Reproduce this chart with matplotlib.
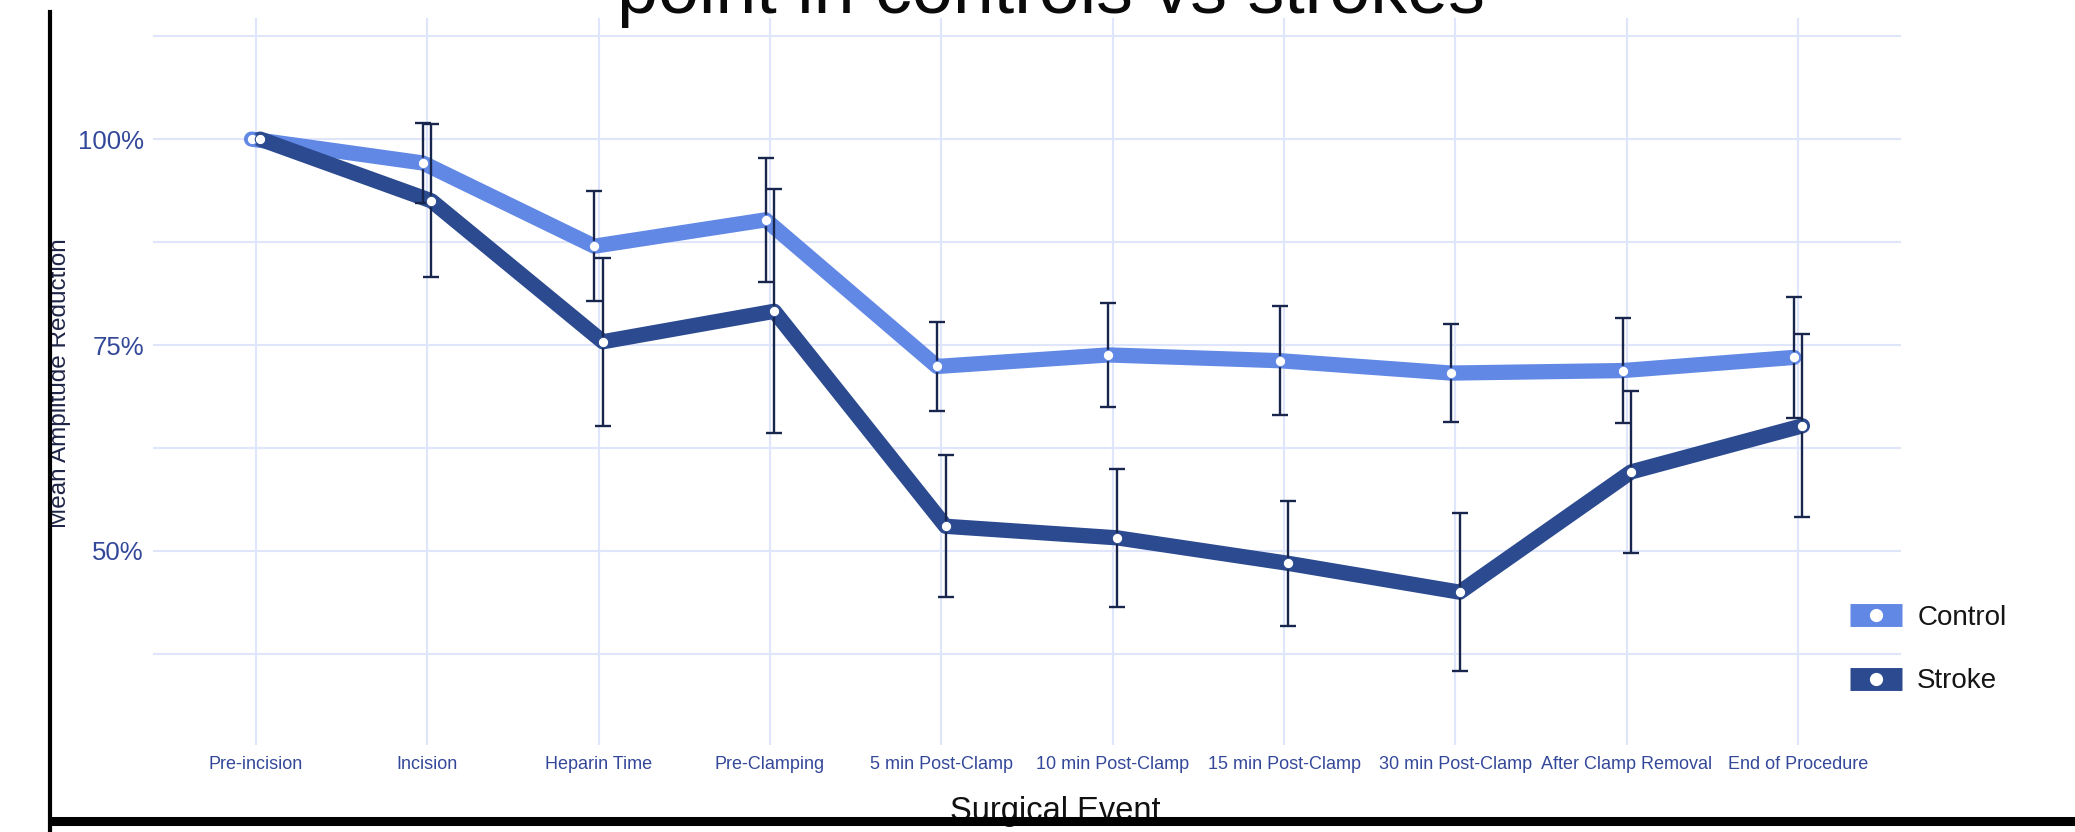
import matplotlib
matplotlib.use("Agg")
import matplotlib.pyplot as plt
from matplotlib.lines import Line2D
import numpy as np

plt.rcParams["font.family"] = ["Liberation Sans", "DejaVu Sans"]

# ---- data -------------------------------------------------------------
events = [
    "Pre-incision", "Incision", "Heparin Time", "Pre-Clamping",
    "5 min Post-Clamp", "10 min Post-Clamp", "15 min Post-Clamp",
    "30 min Post-Clamp", "After Clamp Removal", "End of Procedure",
]
control_mean = [100.0, 97.1, 87.0, 90.2, 72.4, 73.8, 73.1, 71.6, 71.9, 73.5]
control_err = [0.0, 4.8, 6.7, 7.5, 5.4, 6.3, 6.6, 6.0, 6.4, 7.3]
stroke_mean = [100.0, 92.5, 75.4, 79.1, 53.0, 51.6, 48.5, 45.0, 59.6, 65.2]
stroke_err = [0.0, 9.3, 10.2, 14.8, 8.6, 8.4, 7.6, 9.6, 9.8, 11.1]
series_names = ["Control", "Stroke"]
y_ticks = [50, 75, 100]
y_tick_labels = ["50%", "75%", "100%"]
y_minor_ticks = [37.5, 62.5, 87.5, 112.5]

# ---- style ------------------------------------------------------------
W, H = 2075, 832
control_color = "#6188e4"
stroke_color = "#2c4a90"
err_color = "#18264d"
grid_color = "#dfe5fb"
tick_color = "#34489a"

fig = plt.figure(figsize=(W / 100, H / 100), dpi=100)
fig.patch.set_facecolor("white")

ax_left, ax_right, ax_top, ax_bottom = 153, 1901, 18, 745
ax = fig.add_axes([ax_left / W, (H - ax_bottom) / H,
                   (ax_right - ax_left) / W, (ax_bottom - ax_top) / H])

x = np.arange(len(events))
series = [
    (np.array(control_mean), np.array(control_err), control_color, -0.025),
    (np.array(stroke_mean), np.array(stroke_err), stroke_color, 0.025),
]

# lines first, then error bars, then the white point markers on top
for mean, err, color, off in series:
    ax.plot(x + off, mean, color=color, lw=11, solid_joinstyle="round",
            solid_capstyle="round", zorder=3)
for mean, err, color, off in series:
    m = err > 0
    ax.errorbar((x + off)[m], mean[m], yerr=err[m], fmt="none",
                ecolor=err_color, elinewidth=1.7, capsize=5.5, capthick=1.7,
                zorder=4)
for mean, err, color, off in series:
    ax.plot(x + off, mean, ls="none", marker="o", ms=7.5, mfc="white",
            mec=color, mew=0.8, zorder=5)

ax.set_xlim(-0.6, 9.6)
ax.set_ylim(26.45, 114.7)
ax.set_xticks(x, events, fontsize=13, color=tick_color)
ax.set_yticks(y_ticks, y_tick_labels, fontsize=18.5, color=tick_color)
ax.set_yticks(y_minor_ticks, minor=True)
ax.tick_params(axis="both", which="both", length=0)
ax.tick_params(axis="x", pad=8)
ax.tick_params(axis="y", pad=6.5)
ax.grid(axis="y", which="both", color=grid_color, lw=1.5, zorder=0)
ax.grid(axis="x", which="major", color=grid_color, lw=1.5, zorder=0)
ax.set_axisbelow(True)
for s in ax.spines.values():
    s.set_visible(False)

# legend
handles = [
    Line2D([], [], color=c, lw=16.5, solid_capstyle="butt", marker="o",
           ms=8.5, mfc="white", mec="white")
    for c in (control_color, stroke_color)
]
fig.legend(handles, series_names, loc="upper left",
           bbox_to_anchor=(1850 / W, 1 - 605 / H), frameon=False,
           fontsize=20, handlelength=1.87, handletextpad=0.55,
           labelspacing=1.35, borderpad=0, borderaxespad=0,
           labelcolor="#151515")

# titles and labels
fig.text(1051 / W, 1 - 13 / H, "point in controls vs strokes", ha="center",
         va="baseline", fontsize=53, color="#0a0a0a")
fig.text(60 / W, 1 - 383 / H, "Mean Amplitude Reduction", rotation=90,
         ha="center", va="center", fontsize=17.5, color="#1f2547")
fig.text(1055 / W, 12 / H, "Surgical Event", ha="center", va="baseline",
         fontsize=23.5, color="#111111")

# black frame along the left and bottom edges
fig.add_artist(Line2D([50 / W, 50 / W], [0, 1 - 12 / H],
                      transform=fig.transFigure, color="black", lw=3,
                      zorder=10))
fig.add_artist(Line2D([48 / W, 1], [11 / H, 11 / H],
                      transform=fig.transFigure, color="black", lw=6.5,
                      solid_capstyle="butt", zorder=10))

fig.savefig("out.png", dpi=100, facecolor="white")
